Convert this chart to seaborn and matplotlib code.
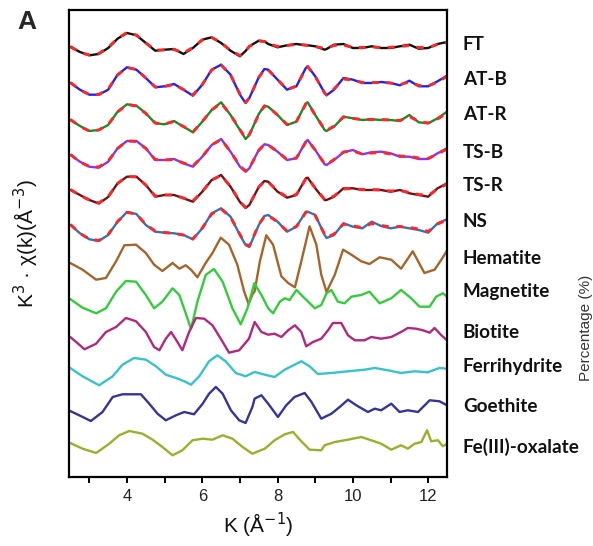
import numpy as np
import pandas as pd
import matplotlib
matplotlib.use("Agg")
import matplotlib.pyplot as plt
import matplotlib.transforms as mtransforms
import seaborn as sns

# ---------------- data: k^3-weighted EXAFS spectra (arbitrary units) ----------------
# samples with linear-combination fits share one k grid
TOP_K = [2.5, 2.75, 3.0, 3.25, 3.5, 3.75, 4.0, 4.25, 4.5, 4.75, 5.0, 5.25, 5.5, 5.75,
         6.0, 6.25, 6.5, 6.75, 7.0, 7.15, 7.25, 7.5, 7.65, 7.75, 8.0, 8.25, 8.5, 8.75,
         8.8, 9.0, 9.25, 9.3, 9.5, 9.75, 10.0, 10.25, 10.5, 10.75, 11.0, 11.25, 11.5,
         11.75, 12.0, 12.25, 12.5]

ft_chi = [1.0, -4.0, -7.3, -6.0, 0.0, 9.3, 15.0, 12.7, 5.0, -2.7, -1.7, -1.0, -6.0, 0.0,
          8.3, 10.7, 5.0, -2.7, -8.3, -3.0, 1.7, 7.3, 6.7, 4.0, 0.7, 2.7, 4.0, 2.7,
          2.7, 1.7, -1.7, -1.0, 3.3, 4.0, 0.0, 0.0, 1.7, 0.0, 0.0, 1.7, 3.3,
          -0.7, 0.0, 4.0, 6.0]
ft_fit = [1.5, -4.5, -7.0, -5.5, 0.5, 9.5, 15.5, 13.0, 5.0, -2.0, -2.0, -1.5, -5.0, 0.5,
          8.0, 10.5, 5.5, -2.5, -7.5, -3.0, 1.5, 7.0, 6.5, 4.5, 1.5, 2.5, 3.5, 3.0,
          2.5, 1.5, -0.5, 0.0, 2.5, 3.0, 0.5, 0.5, 1.0, 0.5, 0.7, 1.5, 2.5,
          0.5, 0.5, 3.5, 5.5]

atb_chi = [0.0, -6.7, -11.7, -11.7, -6.7, 8.3, 15.7, 13.3, 5.0, -4.3, -3.3, -1.0, -6.7, -12.7,
           -1.7, 13.3, 18.3, 8.3, -11.7, -20.0, -15.0, 5.7, 14.0, 13.3, 3.3, -6.7, -3.3, 15.0,
           16.7, 6.7, -10.0, -12.3, -6.7, 5.0, 3.3, 0.0, 0.0, 1.0, 0.0, -2.3, 2.3,
           -3.3, -3.3, 1.7, 7.3]
atb_fit = [0.5, -7.0, -11.5, -11.5, -6.0, 8.0, 15.5, 13.5, 5.0, -4.0, -3.5, -1.5, -6.5, -12.0,
           -1.5, 13.0, 18.0, 8.0, -11.0, -19.5, -15.0, 5.5, 13.5, 13.0, 3.5, -6.5, -3.0, 14.5,
           16.5, 6.5, -10.0, -12.0, -6.0, 4.0, 3.0, 0.5, 0.5, 0.5, 0.0, -1.5, 1.0,
           -2.5, -3.0, 1.0, 6.5]

atr_chi = [0.0, -6.0, -11.0, -10.0, -5.0, 8.3, 15.7, 14.3, 6.7, -3.3, -4.3, -1.0, -6.7, -12.3,
           -1.7, 10.0, 17.7, 5.0, -10.0, -19.0, -15.0, 6.0, 14.3, 13.3, 5.0, -5.0, -1.7, 16.7,
           17.7, 5.0, -10.0, -11.0, -6.7, 3.3, 1.7, 0.0, 0.7, 0.0, 0.0, -1.0, 5.0,
           -2.3, -3.3, 1.7, 8.3]
atr_fit = [0.5, -6.5, -11.0, -10.0, -4.5, 8.0, 15.5, 14.0, 6.5, -3.0, -4.0, -1.5, -6.5, -12.0,
           -1.5, 10.0, 17.0, 5.0, -9.5, -18.5, -14.5, 5.5, 14.0, 13.0, 5.0, -4.5, -1.5, 16.0,
           17.0, 5.0, -9.5, -10.5, -6.0, 3.0, 1.5, 0.5, 0.5, 0.5, 0.0, -0.5, 3.5,
           -1.5, -3.0, 1.0, 7.0]

tsb_chi = [0.0, -6.7, -11.7, -12.7, -6.7, 6.7, 14.0, 14.0, 6.7, -5.0, -5.0, -4.0, -8.3, -11.7,
           -1.7, 10.0, 16.0, 3.3, -11.7, -16.7, -13.3, 5.0, 10.7, 10.0, 3.3, -5.0, -3.3, 13.3,
           15.0, 5.0, -9.3, -10.0, -5.0, 2.7, 5.0, 0.7, 2.7, 3.3, 1.7, -1.7, -1.7,
           -4.0, -4.0, 1.7, 6.7]
tsb_fit = [0.5, -7.0, -11.5, -12.0, -6.0, 6.5, 14.0, 13.5, 6.5, -4.5, -5.0, -4.5, -8.0, -11.0,
           -1.5, 10.0, 15.5, 3.5, -11.0, -16.0, -13.0, 4.5, 10.5, 10.0, 3.5, -4.5, -3.0, 13.0,
           14.5, 5.0, -9.0, -9.5, -4.5, 3.0, 4.0, 1.0, 2.0, 2.5, 1.0, -1.0, -1.5,
           -3.0, -3.5, 1.0, 6.0]

tsr_chi = [0.0, -5.0, -10.0, -13.5, -7.0, 6.7, 13.3, 13.3, 5.0, -6.7, -5.0, -5.0, -8.3, -11.7,
           -1.7, 10.0, 15.0, 3.3, -12.0, -18.0, -15.0, 3.0, 9.0, 8.3, -1.7, -7.7, -5.0, 11.7,
           12.3, 1.7, -10.0, -10.0, -6.7, 1.7, 1.7, 0.0, 0.0, 0.0, -1.7, 0.0, -3.3,
           -5.0, -6.7, 1.7, 6.7]
tsr_fit = [0.5, -5.5, -10.0, -13.0, -6.5, 6.5, 13.5, 13.0, 5.0, -6.0, -5.0, -5.0, -8.0, -11.0,
           -1.5, 10.0, 14.5, 3.5, -11.5, -17.5, -14.5, 3.0, 8.5, 8.0, -1.0, -7.0, -4.5, 11.0,
           12.0, 2.0, -9.5, -9.5, -6.0, 1.0, 1.5, 0.5, 0.5, 0.0, -1.0, -0.5, -2.5,
           -4.5, -5.5, 1.0, 6.0]

ns_chi = [0.0, -8.3, -14.3, -16.0, -10.0, 3.3, 13.0, 11.0, 0.0, -6.7, -7.7, -8.3, -10.0, -14.3,
          -3.3, 11.7, 16.7, 8.3, -10.0, -20.0, -22.0, 0.0, 9.0, 10.0, 3.3, -6.7, -1.7, 13.3,
          13.3, 10.0, -10.0, -13.0, -10.0, 1.7, -1.7, -3.3, 3.3, -1.0, -3.3, -1.7, -3.3,
          -5.0, -7.7, 1.7, 5.7]
ns_fit = [0.5, -8.5, -14.0, -15.5, -9.5, 3.5, 12.5, 11.0, 0.5, -6.0, -7.5, -8.5, -10.0, -14.0,
          -3.0, 11.0, 16.0, 8.0, -9.5, -19.5, -21.0, 0.5, 8.5, 9.5, 3.0, -6.0, -1.5, 12.5,
          13.0, 9.5, -9.5, -12.5, -9.0, 1.0, -1.0, -2.5, 1.5, -0.5, -2.0, -1.5, -2.5,
          -4.0, -6.5, 1.0, 5.0]

# reference compounds
hem_k = [2.49, 2.82, 3.18, 3.44, 3.71, 3.93, 4.24, 4.50, 4.72, 4.94, 5.21, 5.39, 5.56, 5.70,
         5.87, 6.09, 6.27, 6.49, 6.71, 6.93, 7.11, 7.23, 7.33, 7.39, 7.53, 7.70, 7.88, 8.10,
         8.28, 8.46, 8.63, 8.85, 9.03, 9.16, 9.30, 9.52, 9.74, 9.96, 10.22, 10.44, 10.71,
         11.02, 11.28, 11.59, 11.90, 12.17, 12.35, 12.50]
hem_chi = [0.0, -6.7, -16.7, -15.0, 1.7, 17.7, 18.3, 10.0, -1.7, -8.0, 0.0, -5.7, -2.3, -6.7,
           -14.3, 0.0, 10.0, 25.3, 18.3, -1.7, -28.3, -41.0, -31.7, -28.3, 1.7, 27.7, 18.3, -13.3,
           -20.0, -24.3, 1.7, 36.7, 18.3, -11.7, -29.0, -11.7, 13.3, 8.3, 1.7, -1.0, 5.7,
           3.3, -5.7, 11.7, -10.0, -6.7, 3.3, 12.3]

mag_k = [2.49, 2.82, 3.18, 3.44, 3.71, 3.97, 4.24, 4.50, 4.72, 4.94, 5.21, 5.39, 5.56, 5.70,
         5.87, 6.09, 6.31, 6.54, 6.80, 7.02, 7.20, 7.38, 7.57, 7.75, 7.88, 8.06, 8.19, 8.32,
         8.50, 8.72, 8.99, 9.16, 9.30, 9.43, 9.60, 9.78, 9.96, 10.22, 10.44, 10.71, 11.02,
         11.28, 11.55, 11.77, 12.04, 12.21, 12.39, 12.50]
mag_chi = [0.0, -8.7, -14.3, -9.3, 7.3, 18.0, 17.3, 4.0, -9.3, -2.7, 10.7, 4.0, -14.3, -30.0,
           -2.7, 24.0, 30.0, 17.3, -9.3, -25.3, -9.3, 15.7, 4.0, -9.3, -14.3, -2.7, 0.7, -1.0,
           9.0, 0.7, -9.3, -6.0, 5.7, 9.0, -2.7, -4.3, 2.3, 4.0, 7.3, -4.3, 0.7,
           9.0, 0.7, -7.7, -7.7, 2.3, 5.7, 2.3]

bio_k = [2.49, 2.65, 2.87, 3.18, 3.44, 3.71, 3.97, 4.24, 4.50, 4.72, 4.86, 5.03, 5.17, 5.34,
         5.47, 5.65, 5.83, 6.05, 6.27, 6.49, 6.71, 6.98, 7.24, 7.39, 7.57, 7.75, 7.92, 8.10,
         8.28, 8.46, 8.63, 8.76, 8.94, 9.16, 9.34, 9.47, 9.69, 9.87, 10.05, 10.31, 10.49,
         10.75, 11.02, 11.28, 11.46, 11.68, 11.86, 12.04, 12.17, 12.35, 12.50]
bio_chi = [0.0, -5.0, -12.3, -6.7, 5.0, 10.0, 19.0, 15.7, 5.0, -10.0, -13.3, -1.7, 5.0, -5.0,
           -13.3, 5.0, 19.0, 18.3, 11.7, -1.7, -15.7, -13.3, -1.7, 15.0, 5.0, 2.3, 3.3, 0.0,
           6.7, 11.7, 5.0, -9.3, -5.0, -1.7, 6.7, 14.0, 14.0, 1.7, -3.3, -3.3, 0.0,
           -1.7, 0.0, 5.0, 9.0, 8.3, 6.7, 4.3, 9.0, 1.7, -3.3]

fer_k = [2.49, 2.82, 3.26, 3.62, 3.88, 4.19, 4.50, 4.77, 5.03, 5.30, 5.52, 5.70, 5.92, 6.18,
         6.40, 6.62, 6.89, 7.15, 7.39, 7.66, 7.92, 8.19, 8.63, 8.85, 9.07, 9.43, 9.87, 10.31,
         10.58, 10.93, 11.28, 11.64, 11.99, 12.30, 12.50]
fer_chi = [0.0, -8.3, -17.3, -8.3, 3.3, 10.0, 8.3, 1.7, -6.7, -10.0, -13.3, -16.7, -8.3, 6.7,
           12.7, 6.7, -5.0, -8.3, -4.0, -6.7, -9.0, -1.7, 6.7, 1.7, -6.0, -5.0, -3.3, -1.7,
           0.0, -2.3, -5.0, -3.3, -4.3, 0.0, -0.7]

goe_k = [2.49, 2.73, 3.04, 3.35, 3.62, 3.88, 4.15, 4.37, 4.59, 4.81, 5.03, 5.30, 5.52, 5.78,
         6.01, 6.18, 6.36, 6.54, 6.76, 6.98, 7.15, 7.33, 7.39, 7.57, 7.75, 8.01, 8.23, 8.45,
         8.72, 8.90, 9.16, 9.43, 9.65, 9.87, 10.09, 10.40, 10.58, 10.75, 11.02, 11.24, 11.46,
         11.73, 12.04, 12.30, 12.50]
goe_chi = [0.0, -4.3, -10.0, -1.0, 14.0, 16.7, 16.7, 16.7, 7.3, -2.7, -9.3, -4.3, -1.0, -3.3,
           7.3, 17.3, 24.0, 17.3, 0.7, -9.3, -12.0, 4.0, 12.3, 15.7, 7.3, -6.0, 5.7, 14.0,
           18.0, 9.0, -7.7, -2.7, 4.0, 11.3, 5.7, -1.0, 2.3, 0.7, 7.3, -1.0, 0.7,
           -1.0, 10.7, 9.7, 5.7]

oxa_k = [2.49, 2.82, 3.18, 3.53, 3.79, 4.06, 4.41, 4.68, 4.94, 5.21, 5.47, 5.74, 6.01, 6.27,
         6.54, 6.80, 7.07, 7.33, 7.55, 7.66, 7.92, 8.19, 8.41, 8.63, 8.85, 9.16, 9.25, 9.52,
         9.87, 10.22, 10.49, 10.75, 11.02, 11.28, 11.46, 11.64, 11.82, 11.97, 12.08, 12.26,
         12.39, 12.50]
oxa_chi = [0.0, -5.7, -10.0, -0.7, 7.7, 12.0, 9.3, 3.3, -4.0, -12.3, -7.3, 2.7, 4.3, 3.3,
           7.7, 4.3, -4.0, -10.7, -7.3, -5.7, 2.7, 8.7, 11.0, 1.7, -6.7, -7.3, -2.3, 1.0,
           3.3, 6.0, 2.7, -0.7, -6.7, -2.3, -5.7, -0.7, 1.0, 12.7, 1.7, 2.7,
           -3.3, -0.7]

SAMPLES = ["FT", "AT-B", "AT-R", "TS-B", "TS-R", "NS"]
REFERENCES = ["Hematite", "Magnetite", "Biotite", "Ferrihydrite", "Goethite", "Fe(III)-oxalate"]

# vertical stacking of the traces and their labels
OFFSETS = [429, 394, 357, 322, 287, 252, 214, 178, 140, 109, 66, 34]
LABEL_Y = [432, 397, 362, 324, 291, 255, 218, 185, 144, 110, 70, 30]

COLORS = ["#111111", "#2222ee", "#1f8a25", "#8a33f0", "#6e1414", "#3a6fb8",
          "#a5652a", "#33cc3a", "#b3287e", "#36c3cc", "#34349a", "#9bb02a"]
FIT_COLOR = "#ff2626"

# ---------------- assemble long-form tables ----------------
sample_chi = [ft_chi, atb_chi, atr_chi, tsb_chi, tsr_chi, ns_chi]
sample_fit = [ft_fit, atb_fit, atr_fit, tsb_fit, tsr_fit, ns_fit]
ref_k = [hem_k, mag_k, bio_k, fer_k, goe_k, oxa_k]
ref_chi = [hem_chi, mag_chi, bio_chi, fer_chi, goe_chi, oxa_chi]

rows = []
fit_rows = []
for i, name in enumerate(SAMPLES):
    for k, v, f in zip(TOP_K, sample_chi[i], sample_fit[i]):
        rows.append((name, k, OFFSETS[i] + v))
        fit_rows.append((name, k, OFFSETS[i] + f))
for j, name in enumerate(REFERENCES):
    off = OFFSETS[len(SAMPLES) + j]
    for k, v in zip(ref_k[j], ref_chi[j]):
        rows.append((name, k, off + v))

spectra = pd.DataFrame(rows, columns=["series", "k", "chi"])
fits = pd.DataFrame(fit_rows, columns=["series", "k", "chi"])
names = SAMPLES + REFERENCES
palette = dict(zip(names, COLORS))

# ---------------- figure ----------------
sns.set_theme(style="white")
plt.rcParams["font.family"] = ["Liberation Sans", "DejaVu Sans"]

fig = plt.figure(figsize=(5.93, 5.46), dpi=100)
ax = fig.add_axes([0.1164, 0.1264, 0.6374, 0.8553])

sns.lineplot(data=spectra, x="k", y="chi", hue="series", hue_order=names,
             palette=palette, estimator=None, sort=False, linewidth=1.7,
             legend=False, ax=ax)
for name in SAMPLES:
    sub = fits[fits["series"] == name]
    sns.lineplot(x=sub["k"], y=sub["chi"], color=FIT_COLOR, estimator=None,
                 sort=False, linewidth=2.1, dashes=False, ax=ax,
                 linestyle=(0, (2.4, 2.6)))

ax.set_xlim(2.46, 12.5)
ax.set_ylim(0, 467)

ax.set_xticks([4, 6, 8, 10, 12])
ax.set_xticks([3, 5, 7, 9, 11], minor=True)
ax.set_yticks([])
ax.tick_params(axis="x", which="both", direction="out", length=4.5, width=1.4,
               color="black", bottom=True, labelsize=12, pad=4)
for lab in ax.get_xticklabels():
    lab.set_color("#222222")
for side in ["left", "right", "top", "bottom"]:
    ax.spines[side].set_visible(True)
    ax.spines[side].set_color("black")
    ax.spines[side].set_linewidth(1.6)

ax.set_xlabel("K (Å$^{-1}$)", fontsize=15, labelpad=5, color="#111111")
ax.set_ylabel("K$^{3}$ · χ(k)(Å$^{-3}$)", fontsize=15, labelpad=20, color="#111111")

# trace labels to the right of the frame
trans = mtransforms.blended_transform_factory(ax.transAxes, ax.transData)
for name, y in zip(names, LABEL_Y):
    ax.text(1.042, y, name, transform=trans, ha="left", va="center",
            fontsize=13.6, fontweight="bold", family=["Lato", "DejaVu Sans"],
            color="#111111", clip_on=False)

# panel letter and neighbouring axis title
fig.text(0.030, 0.982, "A", fontsize=19, fontweight="bold", ha="left", va="top",
         family=["Liberation Sans", "DejaVu Sans"])
fig.text(0.977, 0.40, "Percentage (%)", fontsize=11, rotation=90, ha="left",
         va="center", color="#333333")

fig.savefig("out.png", dpi=100)
